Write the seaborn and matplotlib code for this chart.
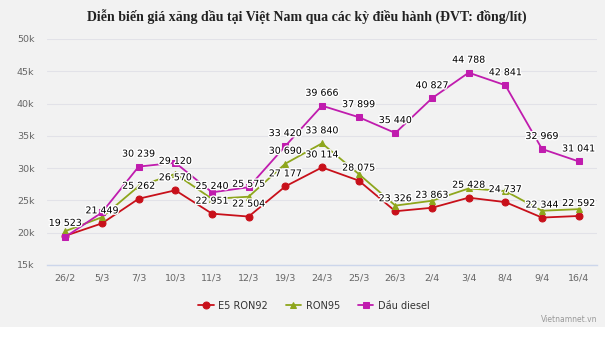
import numpy as np
import pandas as pd
import matplotlib
matplotlib.use("Agg")
import matplotlib.pyplot as plt
import matplotlib.patheffects as pe
from matplotlib.patches import Rectangle
import seaborn as sns

dates = ["26/2", "5/3", "7/3", "10/3", "11/3", "12/3", "19/3", "24/3", "25/3",
         "26/3", "2/4", "3/4", "8/4", "9/4", "16/4"]
e5 = [19523, 21449, 25262, 26570, 22951, 22504, 27177, 30114, 28075, 23326,
      23863, 25428, 24737, 22344, 22592]
ron95 = [20250, 22400, 27200, 29120, 25240, 25575, 30690, 33840, 29100, 24200,
         24950, 26850, 26450, 23400, 23650]
diesel = [19350, 23150, 30239, 30840, 26250, 27050, 33420, 39666, 37899, 35440,
          40827, 44788, 42841, 32969, 31041]
e5_lab = [True] * 15
ron95_lab = [False, False, False, True, True, True, True, True, False, False,
             False, False, False, False, False]
diesel_lab = [False, False, True, False, False, False, True, True, True, True,
              True, True, True, True, True]
series_names = ["E5 RON92", "RON95", "Dầu diesel"]
yticks = [15000, 20000, 25000, 30000, 35000, 40000, 45000, 50000]
ytick_labels = ["15k", "20k", "25k", "30k", "35k", "40k", "45k", "50k"]
title = "Diễn biến giá xăng dầu tại Việt Nam qua các kỳ điều hành (ĐVT: đồng/lít)"

sns.set_theme(style="white")
plt.rcParams['font.family'] = ['DejaVu Sans']

colors = {"E5 RON92": "#c8101a", "RON95": "#8ea61c", "Dầu diesel": "#c01cae"}
markers = {"E5 RON92": "o", "RON95": "^", "Dầu diesel": "s"}
msizes = {"E5 RON92": 5, "RON95": 4, "Dầu diesel": 4.8}

n = len(e5)
df = pd.DataFrame({
    "idx": list(range(n)) * 3,
    "price": e5 + ron95 + diesel,
    "series": [series_names[0]] * n + [series_names[1]] * n + [series_names[2]] * n,
})

fig = plt.figure(figsize=(6.15, 3.4), dpi=100)
fig.patch.set_facecolor("white")
bg = Rectangle((0, 1 - 327 / 340), 605 / 615, 327 / 340,
               transform=fig.transFigure, facecolor="#f2f2f2",
               edgecolor="none", zorder=-10)
fig.patches.append(bg)
ax = fig.add_axes([47 / 615, 1 - 265 / 340, 550 / 615, (265 - 39) / 340])
ax.set_facecolor("none")
ax.set_zorder(1)

for name in series_names:
    sub = df[df["series"] == name]
    sns.lineplot(data=sub, x="idx", y="price", ax=ax, color=colors[name],
                 marker=markers[name], markersize=msizes[name],
                 markeredgecolor=colors[name], linewidth=1.3, label=name,
                 zorder=3)

ax.set_xlim(-0.5, n - 0.5)
ax.set_ylim(15000, 50000)
ax.set_yticks(yticks)
ax.set_yticklabels(ytick_labels)
ax.set_xticks(range(n))
ax.set_xticklabels(dates)
ax.tick_params(axis="both", length=0, labelsize=6.8, colors="#666666")
ax.tick_params(axis="y", pad=9)
ax.tick_params(axis="x", pad=6)
ax.set_xlabel("")
ax.set_ylabel("")
for s in ["top", "right", "left"]:
    ax.spines[s].set_visible(False)
ax.spines["bottom"].set_color("#ccd6eb")
ax.spines["bottom"].set_linewidth(1)
ax.grid(axis="y", color="#e2e2e8", linewidth=0.8)
ax.grid(axis="x", visible=False)
ax.set_axisbelow(True)

halo = [pe.withStroke(linewidth=2, foreground="white")]
for vals, labs in [(e5, e5_lab), (ron95, ron95_lab), (diesel, diesel_lab)]:
    for i, (v, show) in enumerate(zip(vals, labs)):
        if show:
            s = f"{v:,}".replace(",", " ")
            ax.annotate(s, (i, v), xytext=(0, 9), textcoords="offset points",
                        ha="center", va="center", fontsize=6.8, color="#000000",
                        path_effects=halo, zorder=5)

leg = ax.legend(loc="center", bbox_to_anchor=(0.5 - 8 / 550, -0.18),
                ncol=3, frameon=False, fontsize=7, handlelength=1.6,
                columnspacing=1.8, handletextpad=0.5, labelcolor="#333333")

fig.text(307 / 615, 1 - 17 / 340, title, ha="center", va="center",
         fontsize=10, fontweight="bold", family="Liberation Serif", color="#222222")
fig.text(597 / 615, 1 - 320 / 340, "Vietnamnet.vn", ha="right", va="center",
         fontsize=5.5, color="#999999")

fig.savefig("out.png", dpi=100, facecolor="white")
